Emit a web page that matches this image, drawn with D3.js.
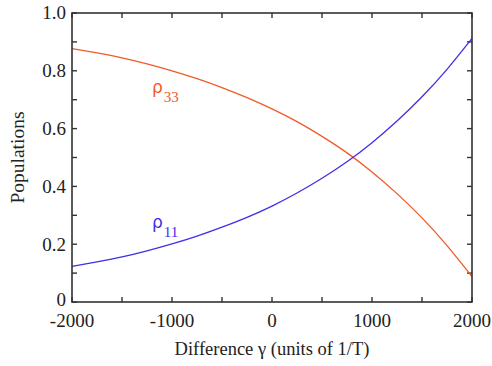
<!DOCTYPE html>
<html>
<head>
<meta charset="utf-8">
<script src="https://cdn.jsdelivr.net/npm/d3@7"></script>
<style>
  body { margin: 0; background: #fff; }
  svg { display: block; font-family: "Liberation Serif", "DejaVu Serif", serif; }
</style>
</head>
<body>
<div id="chart"></div>
<script>
// detuning difference gamma (units of 1/T)
const gammaValues = [-2000, -1750, -1500, -1250, -1000, -750, -500, -250, 0, 250, 500, 750, 1000, 1250, 1500, 1750, 2000];
// populations
const rho11 = [0.123, 0.139, 0.156, 0.177, 0.201, 0.228, 0.259, 0.293, 0.332, 0.377, 0.428, 0.485, 0.551, 0.626, 0.710, 0.805, 0.912];
const rho33 = [0.877, 0.862, 0.845, 0.824, 0.800, 0.773, 0.742, 0.707, 0.668, 0.624, 0.573, 0.516, 0.450, 0.375, 0.291, 0.195, 0.088];

const xTicks = [-2000, -1000, 0, 1000, 2000];
const yTicks = [0, 0.2, 0.4, 0.6, 0.8, 1.0];

const width = 492, height = 366;
const margin = { top: 13, right: 20, bottom: 64, left: 72 };

const svg = d3.select("#chart").append("svg")
  .attr("width", width)
  .attr("height", height);

const x = d3.scaleLinear().domain([-2000, 2000]).range([margin.left, width - margin.right]);
const y = d3.scaleLinear().domain([0, 1]).range([height - margin.bottom, margin.top]);

const frame = "#333";
const tickLen = 5;

// minor/major ticks, all inward on every side
const xMinor = d3.range(-2000, 2001, 500);
const yMinor = d3.range(0, 11).map(d => d / 10);

const ticks = svg.append("g").attr("stroke", frame).attr("stroke-width", 1.4);
xMinor.forEach(v => {
  ticks.append("line").attr("x1", x(v)).attr("x2", x(v))
    .attr("y1", y(0)).attr("y2", y(0) - tickLen);
  ticks.append("line").attr("x1", x(v)).attr("x2", x(v))
    .attr("y1", y(1)).attr("y2", y(1) + tickLen);
});
yMinor.forEach(v => {
  ticks.append("line").attr("x1", x(-2000)).attr("x2", x(-2000) + tickLen)
    .attr("y1", y(v)).attr("y2", y(v));
  ticks.append("line").attr("x1", x(2000)).attr("x2", x(2000) - tickLen)
    .attr("y1", y(v)).attr("y2", y(v));
});

// curves
const line = d3.line()
  .x((d, i) => x(gammaValues[i]))
  .y(d => y(d))
  .curve(d3.curveNatural);

svg.append("path").datum(rho33)
  .attr("fill", "none").attr("stroke", "#f05a28").attr("stroke-width", 1.3)
  .attr("d", line);
svg.append("path").datum(rho11)
  .attr("fill", "none").attr("stroke", "#3f2fe6").attr("stroke-width", 1.3)
  .attr("d", line);

// frame
svg.append("rect")
  .attr("x", x(-2000)).attr("y", y(1))
  .attr("width", x(2000) - x(-2000)).attr("height", y(0) - y(1))
  .attr("fill", "none").attr("stroke", frame).attr("stroke-width", 1.6);

// tick labels
svg.append("g").selectAll("text").data(xTicks).join("text")
  .attr("x", d => x(d)).attr("y", y(0) + 25)
  .attr("text-anchor", "middle").attr("font-size", 19).attr("fill", "#222")
  .text(d => d);

svg.append("g").selectAll("text").data(yTicks).join("text")
  .attr("x", margin.left - 6).attr("y", d => y(d) - (d === 0 ? 2 : 0)).attr("dy", "0.34em")
  .attr("text-anchor", "end").attr("font-size", 19).attr("fill", "#222")
  .text(d => d === 0 ? "0" : d3.format(".1f")(d));

// axis titles
svg.append("text")
  .attr("x", x(0)).attr("y", 355)
  .attr("text-anchor", "middle").attr("font-size", 18.5).attr("fill", "#222")
  .text("Difference γ (units of 1/T)");

svg.append("text")
  .attr("transform", `translate(24,${(y(0) + y(1)) / 2}) rotate(-90)`)
  .attr("text-anchor", "middle").attr("font-size", 19.5).attr("fill", "#222")
  .text("Populations");

// curve labels
function rhoLabel(px, py, sub, color) {
  const t = svg.append("text").attr("x", px).attr("y", py)
    .attr("fill", color).attr("font-size", 17);
  t.append("tspan").attr("font-family", "'DejaVu Sans', sans-serif").text("ρ");
  t.append("tspan").attr("dy", 9).attr("dx", 1).attr("font-size", 15).text(sub);
}
rhoLabel(152, 93, "33", "#f05a28");
rhoLabel(152, 228, "11", "#3f2fe6");
</script>
</body>
</html>
